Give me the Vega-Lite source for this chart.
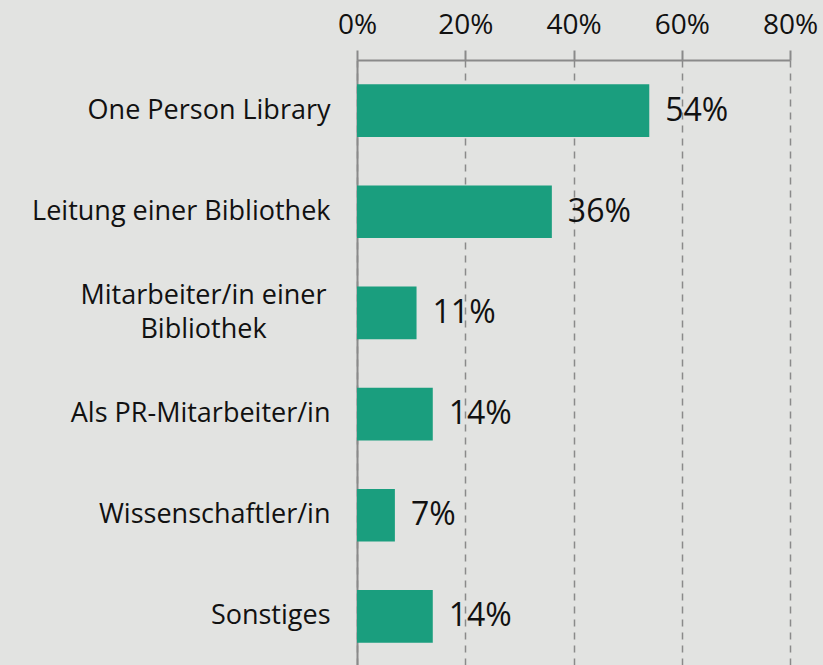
{
  "$schema": "https://vega.github.io/schema/vega-lite/v6.json",
  "autosize": "none",
  "padding": {"left": 357, "top": 60, "right": 33, "bottom": 0},
  "width": 433,
  "height": 607,
  "background": "#e2e3e1",
  "config": {
    "view": {"stroke": null},
    "font": "Open Sans"
  },
  "data": {
    "values": [
      {"kategorie": "One Person Library", "anteil": 0.54},
      {"kategorie": "Leitung einer Bibliothek", "anteil": 0.36},
      {"kategorie": "Mitarbeiter/in einer Bibliothek", "anteil": 0.11},
      {"kategorie": "Als PR-Mitarbeiter/in", "anteil": 0.14},
      {"kategorie": "Wissenschaftler/in", "anteil": 0.07},
      {"kategorie": "Sonstiges", "anteil": 0.14}
    ]
  },
  "encoding": {
    "y": {
      "field": "kategorie",
      "type": "nominal",
      "sort": null,
      "scale": {"paddingInner": 0.48, "paddingOuter": 0.24},
      "axis": {
        "title": null,
        "ticks": false,
        "grid": false,
        "domain": true,
        "domainColor": "#8a8a8a",
        "domainWidth": 2,
        "labelFontSize": 27,
        "labelColor": "#111111",
        "labelLimit": 400,
        "labelLineHeight": 34,
        "labelAlign": {"condition": {"test": "datum.value == 'Mitarbeiter/in einer Bibliothek'", "value": "center"}, "value": "right"},
        "labelPadding": {"condition": {"test": "datum.value == 'Mitarbeiter/in einer Bibliothek'", "value": 154}, "value": 27},
        "labelOffset": {"condition": {"test": "datum.value == 'Mitarbeiter/in einer Bibliothek'", "value": -17}, "value": 0},
        "labelExpr": "datum.value == 'Mitarbeiter/in einer Bibliothek' ? ['Mitarbeiter/in einer', 'Bibliothek'] : datum.value"
      }
    },
    "x": {
      "field": "anteil",
      "type": "quantitative",
      "scale": {"domain": [0, 0.8], "nice": false},
      "axis": {
        "orient": "top",
        "title": null,
        "values": [0, 0.2, 0.4, 0.6, 0.8],
        "format": ".0%",
        "labelFlush": false,
        "labelFontSize": 28,
        "labelColor": "#111111",
        "labelPadding": 11,
        "tickSize": 10,
        "tickColor": "#8a8a8a",
        "tickWidth": 2,
        "domainColor": "#8a8a8a",
        "domainWidth": 2,
        "grid": true,
        "gridColor": "#8a8a8a",
        "gridWidth": 1.5,
        "gridDash": [7, 6]
      }
    }
  },
  "layer": [
    {
      "mark": {"type": "bar", "color": "#1a9e7e"}
    },
    {
      "mark": {"type": "text", "align": "left", "baseline": "middle", "dx": 16, "fontSize": 32, "color": "#111111"},
      "encoding": {
        "text": {"field": "anteil", "type": "quantitative", "format": ".0%"}
      }
    }
  ]
}
